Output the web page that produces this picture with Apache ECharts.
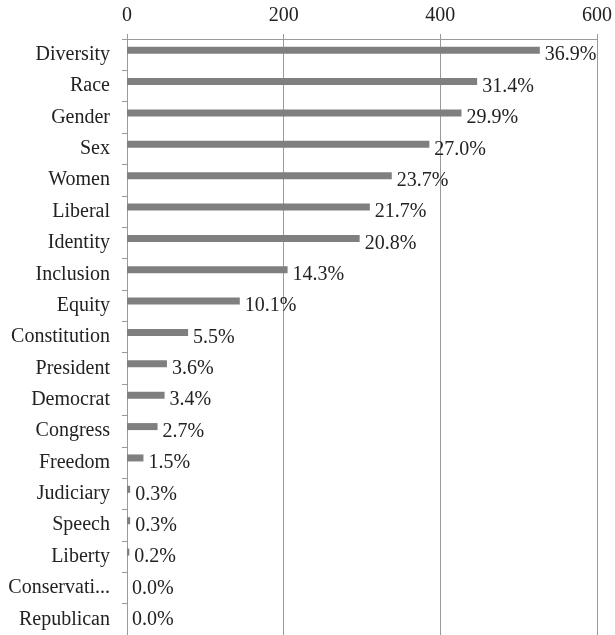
<!DOCTYPE html>
<html>
<head>
<meta charset="utf-8">
<script src="https://cdn.jsdelivr.net/npm/echarts@6/dist/echarts.min.js"></script>
<style>
html,body{margin:0;padding:0;background:#fff;}
#chart{width:615px;height:635px;}
</style>
</head>
<body>
<div id="chart"></div>
<script>
const categories = ["Diversity","Race","Gender","Sex","Women","Liberal","Identity","Inclusion","Equity","Constitution","President","Democrat","Congress","Freedom","Judiciary","Speech","Liberty","Conservative","Republican"];
const counts = [527, 447, 427, 386, 338, 310, 297, 205, 144, 78, 51, 48, 39, 21, 4, 4, 3, 0, 0];
const percents = [36.9, 31.4, 29.9, 27.0, 23.7, 21.7, 20.8, 14.3, 10.1, 5.5, 3.6, 3.4, 2.7, 1.5, 0.3, 0.3, 0.2, 0.0, 0.0];
const xTicks = [0, 200, 400, 600];

const FONT = "Liberation Serif";
const measureCtx = document.createElement('canvas').getContext('2d');
measureCtx.font = '20px "' + FONT + '"';
function fitLabel(v) {
  const maxW = 104;
  if (measureCtx.measureText(v).width <= maxW) return v;
  let s = v;
  while (s.length > 1 && measureCtx.measureText(s + '...').width > maxW) s = s.slice(0, -1);
  return s + '...';
}

const chart = echarts.init(document.getElementById('chart'), null, {renderer: 'canvas'});
chart.setOption({
  animation: false,
  backgroundColor: '#ffffff',
  grid: {left: 127, right: 18, top: 39, bottom: -4, containLabel: false},
  xAxis: {
    type: 'value',
    position: 'top',
    min: xTicks[0],
    max: xTicks[xTicks.length - 1],
    interval: xTicks[1] - xTicks[0],
    axisLine: {show: true, lineStyle: {color: '#9a9a9a', width: 1}},
    axisTick: {show: true, length: 5, lineStyle: {color: '#9a9a9a'}},
    splitLine: {show: true, lineStyle: {color: '#9a9a9a', width: 1}},
    axisLabel: {fontFamily: FONT, fontSize: 20, color: '#222', margin: 13}
  },
  yAxis: {
    type: 'category',
    inverse: true,
    data: categories,
    axisLine: {show: true, lineStyle: {color: '#9a9a9a', width: 1}},
    axisTick: {show: true, length: 5, lineStyle: {color: '#9a9a9a'}},
    axisLabel: {
      fontFamily: FONT, fontSize: 20, color: '#222', margin: 17,
      formatter: fitLabel
    }
  },
  series: [
    {
      type: 'bar',
      data: counts,
      barWidth: 7,
      barGap: '29%',
      itemStyle: {color: '#7f7f7f'},
      label: {
        show: true,
        position: 'right',
        distance: 5,
        offset: [0, 5],
        fontFamily: FONT,
        fontSize: 20,
        color: '#222',
        formatter: function (p) { return percents[p.dataIndex].toFixed(1) + '%'; }
      }
    },
    {
      type: 'bar',
      data: counts.map(function () { return 0; }),
      barWidth: 7,
      itemStyle: {color: 'rgba(0,0,0,0)'},
      label: {show: false},
      silent: true
    }
  ]
});
</script>
</body>
</html>
